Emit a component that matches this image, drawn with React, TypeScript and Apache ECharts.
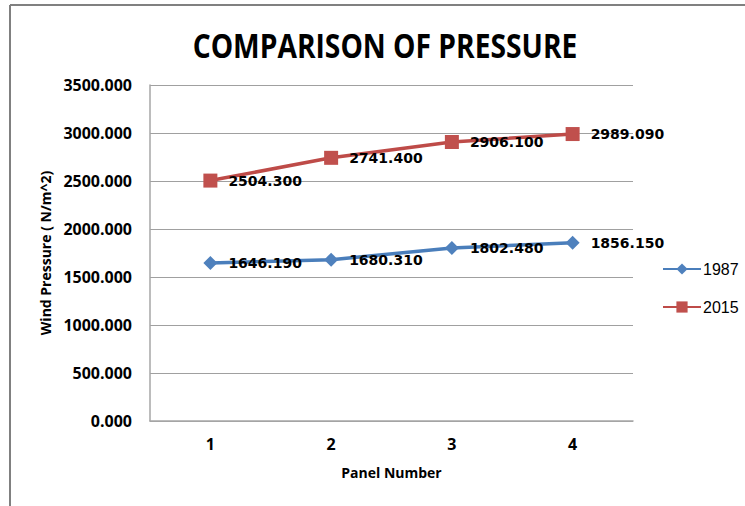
import React, { useEffect, useRef } from "react";
import * as echarts from "echarts";

const categories = ["1", "2", "3", "4"];
const series1987 = [1646.19, 1680.31, 1802.48, 1856.15];
const series2015 = [2504.3, 2741.4, 2906.1, 2989.09];
const seriesNames = ["1987", "2015"];
const titleText = "COMPARISON OF PRESSURE";
const yAxisName = "Wind Pressure ( N/m^2)";
const xAxisName = "Panel Number";

export default function App() {
  const ref = useRef<HTMLDivElement>(null);
  useEffect(() => {
    if (!ref.current) return;
    const chart = echarts.init(ref.current, undefined, { renderer: "svg" });
    const labelStyle = {
      show: true,
      position: "right" as const,
      distance: 11,
      color: "#000",
      fontFamily: "DejaVu Sans",
      fontWeight: "bold" as const,
      fontSize: 14,
      formatter: (p: any) => Number(p.value).toFixed(3),
    };
    chart.setOption({
      animation: false,
      backgroundColor: "#fff",
      graphic: [
        {
          type: "line",
          shape: { x1: 10, y1: 5, x2: 745, y2: 5 },
          style: { stroke: "#808080", lineWidth: 2 },
        },
        {
          type: "line",
          shape: { x1: 10, y1: 5, x2: 10, y2: 506 },
          style: { stroke: "#808080", lineWidth: 2 },
        },
        {
          type: "text",
          x: 385,
          y: 45,
          scaleX: 0.83,
          style: {
            text: titleText,
            fill: "#000",
            fontFamily: "Open Sans",
            fontWeight: "bold",
            fontSize: 34,
            textAlign: "center",
            textVerticalAlign: "middle",
          },
        },
      ],
      legend: {
        orient: "vertical",
        left: 662,
        top: 261,
        padding: 0,
        itemWidth: 38,
        itemHeight: 14,
        itemGap: 22,
        data: seriesNames,
        textStyle: {
          fontFamily: "Liberation Sans",
          fontSize: 16,
          color: "#000",
          padding: [6, 0, 0, -3],
        },
      },
      grid: { left: 150, right: 112, top: 85, bottom: 85 },
      xAxis: {
        type: "category",
        data: categories,
        boundaryGap: true,
        name: xAxisName,
        nameLocation: "middle",
        nameGap: 44,
        nameTextStyle: {
          fontFamily: "Open Sans",
          fontWeight: "bold",
          fontSize: 14,
          color: "#000",
        },
        axisLine: { lineStyle: { color: "#a6a6a6", width: 1.5 } },
        axisTick: { show: false },
        axisLabel: {
          margin: 15,
          fontFamily: "Open Sans",
          fontWeight: "bold",
          fontSize: 16,
          color: "#000",
        },
      },
      yAxis: {
        type: "value",
        min: 0,
        max: 3500,
        interval: 500,
        name: yAxisName,
        nameLocation: "middle",
        nameGap: 96,
        nameTextStyle: {
          fontFamily: "Open Sans",
          fontWeight: "bold",
          fontSize: 14,
          color: "#000",
        },
        axisLine: { show: true, lineStyle: { color: "#a6a6a6", width: 1.5 } },
        axisTick: { show: false },
        splitLine: { lineStyle: { color: "#a0a0a0", width: 1.2 } },
        axisLabel: {
          margin: 18,
          fontFamily: "Open Sans",
          fontWeight: "bold",
          fontSize: 16,
          color: "#000",
          formatter: (v: number) => v.toFixed(3),
        },
      },
      series: [
        {
          name: seriesNames[0],
          type: "line",
          data: series1987,
          symbol: "diamond",
          symbolSize: 14,
          color: "#4f81bd",
          lineStyle: { color: "#4a7ebb", width: 3.5 },
          itemStyle: { color: "#4f81bd" },
          label: labelStyle,
        },
        {
          name: seriesNames[1],
          type: "line",
          data: series2015,
          symbol: "rect",
          symbolSize: 14,
          color: "#c0504d",
          lineStyle: { color: "#be4b48", width: 3.5 },
          itemStyle: { color: "#c0504d" },
          label: labelStyle,
        },
      ],
    });
    return () => chart.dispose();
  }, []);
  return (
    <div
      ref={ref}
      style={{ position: "absolute", left: 0, top: 0, width: 745, height: 506 }}
    />
  );
}
